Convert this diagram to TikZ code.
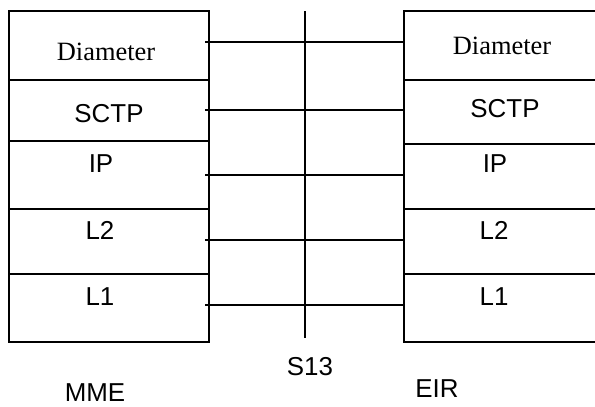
\documentclass[tikz,border=0pt]{standalone}
\usepackage{fontspec}
\setmainfont{Liberation Sans}
\newfontfamily\timesfont{Liberation Serif}
\usetikzlibrary{positioning}

\begin{document}
\begin{tikzpicture}[x=1bp,y=-1bp,node distance=0pt,line width=1.2bp]
\tikzstyle{layer} = [rectangle, draw, minimum width=200bp, outer sep=0pt, inner sep=0pt]
\tikzstyle{txt} = [inner sep=0pt, font=\fontsize{26}{30}\selectfont]
\tikzstyle{dia} = [inner sep=0pt, font=\fontsize{26.5}{30}\timesfont]
\clip (0,0) rectangle (595,406);
% MME stack
\node[layer, minimum height=69bp] (M1) at (109,45.5){};
\node[layer, minimum height=61bp, below=of M1] (M2){};
\node[layer, minimum height=68bp, below=of M2] (M3){};
\node[layer, minimum height=65bp, below=of M3] (M4){};
\node[layer, minimum height=68bp, below=of M4] (M5){};
% EIR stack
\node[layer, minimum height=69bp] (E1) at (504,45.5){};
\node[layer, minimum height=64bp, below=of E1] (E2){};
\node[layer, minimum height=65bp, below=of E2] (E3){};
\node[layer, minimum height=65bp, below=of E3] (E4){};
\node[layer, minimum height=68bp, below=of E4] (E5){};
% texts
\node[dia] (tM1) at (106,52){Diameter};
\node[txt] (tM2) at (109,114){SCTP};
\node[txt] (tM3) at (101,164){IP};
\node[txt] (tM4) at (100,230){L2};
\node[txt] (tM5) at (100,297){L1};
\node[dia] (tE1) at (502,46){Diameter};
\node[txt] (tE2) at (505,109){SCTP};
\node[txt] (tE3) at (495,164){IP};
\node[txt] (tE4) at (494,230){L2};
\node[txt] (tE5) at (494,297){L1};
\node[txt] (mme) at (95,392.5){MME};
\node[txt] (s13) at (310,367){S13};
\node[txt] (eir) at (437,389){EIR};
% links
\coordinate (a1) at (205,42);
\coordinate (a2) at (205,110);
\coordinate (a3) at (205,175);
\coordinate (a4) at (205,240);
\coordinate (a5) at (205,305);
\coordinate (stop) at (305,11);
\coordinate (sbot) at (305,338);
\path (a1) edge (a1 -| E1.west)
      (a2) edge (a2 -| E2.west)
      (a3) edge (a3 -| E3.west)
      (a4) edge (a4 -| E4.west)
      (a5) edge (a5 -| E5.west)
      (stop) edge (sbot);
\end{tikzpicture}
\end{document}
